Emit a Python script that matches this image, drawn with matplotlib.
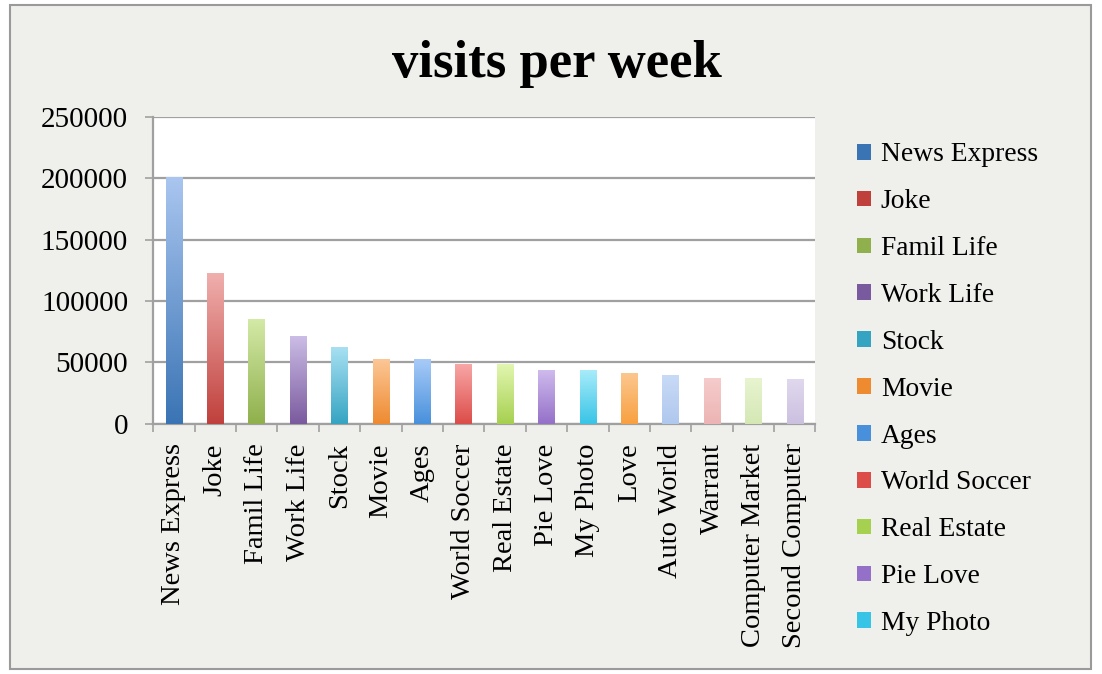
import numpy as np
import matplotlib
matplotlib.use("Agg")
import matplotlib.pyplot as plt
from matplotlib.colors import LinearSegmentedColormap
from matplotlib.patches import Rectangle

categories = ["News Express", "Joke", "Famil Life", "Work Life", "Stock", "Movie",
              "Ages", "World Soccer", "Real Estate", "Pie Love", "My Photo", "Love",
              "Auto World", "Warrant", "Computer Market", "Second Computer"]
visits = [201000, 123000, 85500, 71500, 62500, 53000, 52500, 49000, 48500,
          44000, 43500, 41500, 39500, 37500, 37000, 36500]
ytick_vals = [0, 50000, 100000, 150000, 200000, 250000]

# (top colour, bottom colour) for each bar's gradient
bar_colors = [
    ("#aac6f0", "#3a74b4"), ("#f0b0ae", "#c0403c"), ("#d4eaa8", "#8fb04c"),
    ("#cbbde6", "#7a5a9e"), ("#a8e0f2", "#35a4c2"), ("#fcc898", "#ee8a30"),
    ("#a8cbf8", "#4890dc"), ("#f8a8a8", "#dc4c48"), ("#e2f6b0", "#a6d050"),
    ("#d0bcee", "#9470c8"), ("#a8ecfa", "#38c4e6"), ("#fcc890", "#f8a040"),
    ("#c8daf6", "#b0c8ee"), ("#f6cccc", "#ecb4b4"), ("#e8f4d0", "#d4e8b4"),
    ("#e0d8ee", "#ccc0e0"),
]

serif = ["Liberation Serif", "DejaVu Serif"]
plt.rcParams["font.family"] = serif

bg = "#efefec"
fig = plt.figure(figsize=(11.02, 6.74), dpi=100)
fig.patch.set_facecolor("white")
fig.add_artist(Rectangle((0.009, 0.008), 0.981, 0.984, transform=fig.transFigure,
                         facecolor=bg, edgecolor="#9a9a9a", linewidth=1.5, zorder=-1))

ax = fig.add_axes([0.139, 0.371, 0.601, 0.456])
ax.set_facecolor("white")
x = np.arange(len(categories))
bars = ax.bar(x, visits, width=0.4, color=[c[1] for c in bar_colors], zorder=3,
              edgecolor="none")
grad = np.linspace(0, 1, 256).reshape(-1, 1)
for b, (top, bot) in zip(bars, bar_colors):
    cmap = LinearSegmentedColormap.from_list("g", [bot, top])
    x0, w, h = b.get_x(), b.get_width(), b.get_height()
    im = ax.imshow(grad, cmap=cmap, extent=(x0, x0 + w, 0, h), origin="lower",
                   aspect="auto", zorder=4, interpolation="bilinear")
    im.set_clip_path(b)

ax.set_xlim(-0.5, len(categories) - 0.5)
ax.set_ylim(0, 250000)
ax.set_yticks(ytick_vals)
ax.set_yticklabels([str(v) for v in ytick_vals], fontsize=21)
ax.yaxis.grid(True, color="#a0a0a0", linewidth=1.6, zorder=1)
ax.set_xticks(x)
ax.set_xticklabels(categories, rotation=90, fontsize=20.5)
ax.set_xticks(np.arange(len(categories) + 1) - 0.5, minor=True)
ax.tick_params(axis="x", which="major", length=0, pad=14)
ax.tick_params(axis="x", which="minor", length=6, color="#a0a0a0", width=1.2)
ax.tick_params(axis="y", length=6, color="#a0a0a0", width=1.2, pad=12)
for s in ["top", "right"]:
    ax.spines[s].set_visible(False)
for s in ["left", "bottom"]:
    ax.spines[s].set_color("#a0a0a0")
    ax.spines[s].set_linewidth(1.6)

fig.text(0.505, 0.905, "visits per week", ha="center", va="center", fontsize=38,
         fontweight="bold")

handles = [Rectangle((0, 0), 1, 1, facecolor=c[1]) for c in bar_colors[:11]]
fig.legend(handles, categories[:11], loc="upper left", bbox_to_anchor=(0.768, 0.805),
           frameon=False, fontsize=19.8, handlelength=0.5, handleheight=0.5,
           handletextpad=0.35, labelspacing=0.795, borderaxespad=0)

fig.savefig("out.png", dpi=100, facecolor=fig.get_facecolor())
